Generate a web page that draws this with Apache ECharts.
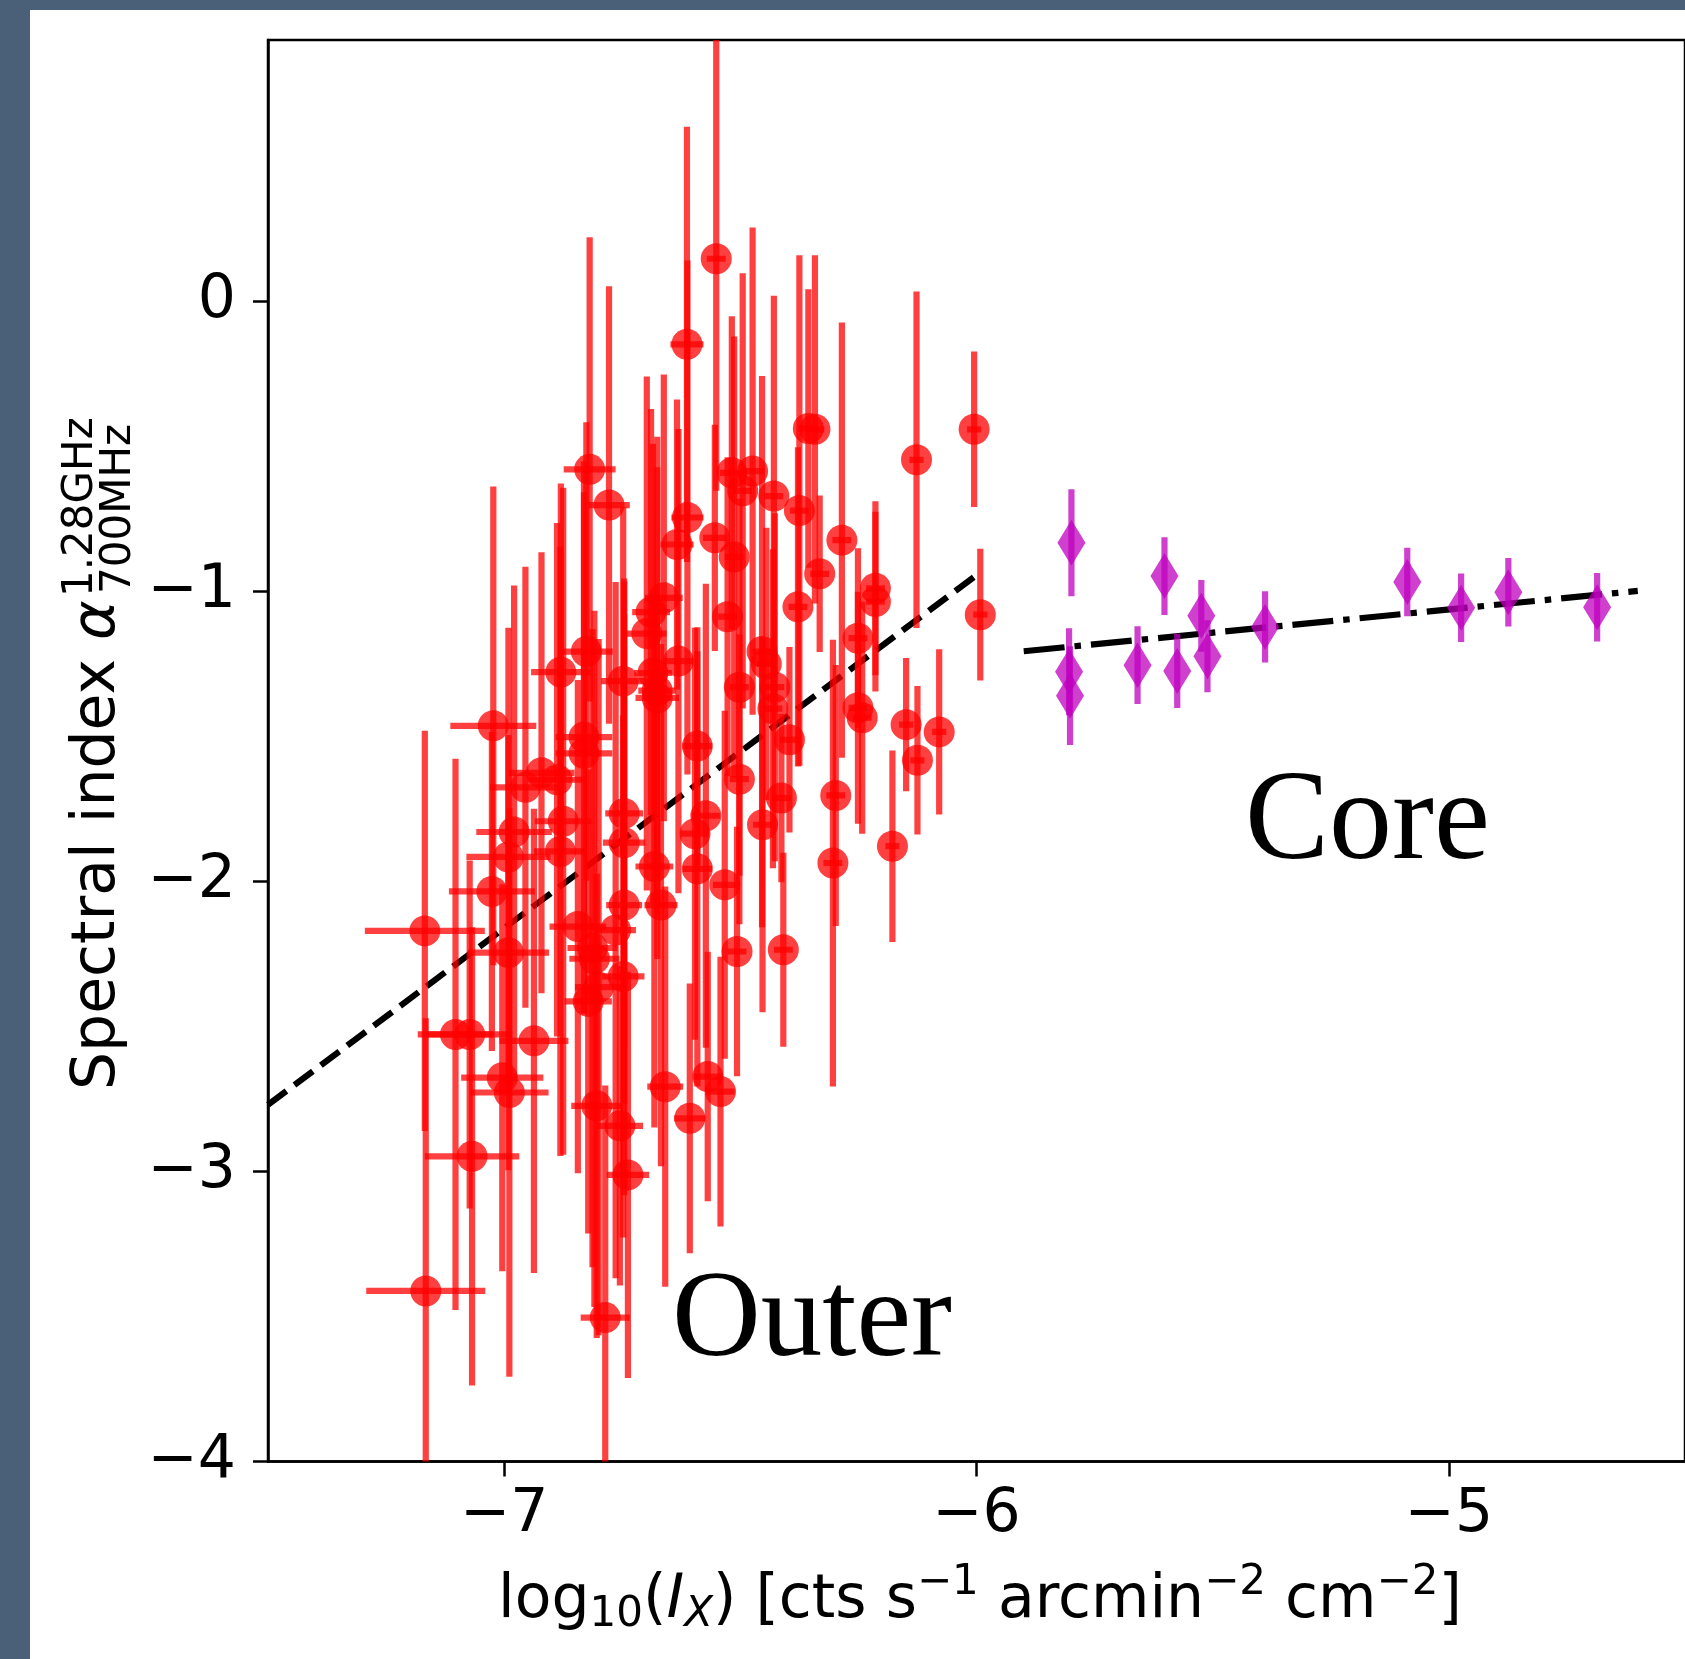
<!DOCTYPE html>
<html>
<head>
<meta charset="utf-8">
<script src="https://cdn.jsdelivr.net/npm/echarts@6/dist/echarts.min.js"></script>
<style>
html,body{margin:0;padding:0;background:#fff;}
#c{width:1685px;height:1659px;}
</style>
</head>
<body>
<div id="c"></div>
<script>
// ---- data ----
const outerX = [-6.551,-6.613,-6.005,-6.356,-6.342,-6.127,-6.819,-6.518,-6.474,-6.495,
  -6.778,-6.429,-6.375,-6.612,-6.554,-6.285,-6.634,-6.513,-6.332,-6.214,
  -6.214,-5.992,-6.662,-6.689,-6.698,-6.378,-6.527,-6.251,-6.826,-6.454,
  -6.445,-6.880,-6.631,-6.748,-6.685,-6.676,-6.676,-6.502,-6.427,-6.431,
  -6.251,-6.242,-7.023,-6.149,-6.079,-6.831,-6.831,-6.396,-6.591,-6.125,
  -6.921,-6.888,-6.502,-7.168,-6.955,-6.979,-6.875,-6.881,-6.746,-6.746,
  -6.991,-7.026,-6.991,-6.844,-6.764,-6.813,-6.809,-6.748,-6.800,-6.822,
  -6.746,-6.668,-6.682,-6.591,-6.596,-6.573,-6.533,-6.453,-6.413,-6.298,
  -6.304,-6.178,-6.507,-6.409,-7.103,-7.073,-6.937,-7.004,-6.989,-6.659,
  -6.569,-6.542,-6.804,-6.755,-6.607,-7.068,-6.738,-7.166,-6.786];
const outerY = [0.146,-0.149,-0.442,-0.439,-0.442,-0.547,-0.580,-0.592,-0.586,-0.654,
  -0.703,-0.672,-0.722,-0.746,-0.816,-0.824,-0.839,-0.882,-0.940,-0.990,
  -1.036,-1.081,-1.023,-1.072,-1.146,-1.054,-1.088,-1.162,-1.208,-1.208,
  -1.251,-1.279,-1.241,-1.310,-1.282,-1.343,-1.368,-1.331,-1.331,-1.405,
  -1.402,-1.436,-1.464,-1.460,-1.485,-1.503,-1.559,-1.512,-1.534,-1.583,
  -1.626,-1.650,-1.648,-2.171,-1.676,-1.830,-1.793,-1.897,-1.766,-1.867,
  -1.916,-2.035,-2.246,-2.156,-2.168,-2.230,-2.267,-2.328,-2.365,-2.414,
  -2.082,-2.082,-1.949,-1.957,-1.836,-1.774,-2.012,-1.805,-1.713,-1.704,
  -1.937,-1.879,-2.242,-2.236,-2.528,-2.528,-2.550,-2.677,-2.728,-2.708,
  -2.673,-2.725,-2.774,-2.843,-2.817,-2.948,-3.012,-3.412,-3.504];
const outerXErr = [0.02,0.035,0.015,0.02,0.02,0.015,0.055,0.025,0.025,0.02,
  0.044,0.02,0.02,0.034,0.025,0.02,0.035,0.02,0.02,0.02,
  0.02,0.015,0.04,0.04,0.042,0.02,0.02,0.02,0.056,0.02,
  0.02,0.063,0.031,0.047,0.04,0.04,0.046,0.02,0.02,0.02,
  0.02,0.02,0.091,0.015,0.015,0.06,0.06,0.02,0.031,0.015,
  0.07,0.06,0.02,0.127,0.075,0.08,0.06,0.056,0.04,0.045,
  0.089,0.091,0.086,0.06,0.043,0.053,0.053,0.045,0.05,0.05,
  0.038,0.035,0.04,0.031,0.03,0.03,0.025,0.02,0.02,0.02,
  0.02,0.015,0.02,0.02,0.08,0.09,0.073,0.087,0.083,0.038,
  0.03,0.03,0.054,0.049,0.033,0.10,0.045,0.126,0.052];
const outerYErr = [0.80,0.75,0.268,0.48,0.60,0.58,0.80,0.54,0.84,0.75,
  0.754,0.69,0.88,0.886,0.39,0.75,0.50,0.76,0.27,0.30,
  0.31,0.227,0.77,0.70,0.886,0.55,0.55,0.31,0.79,0.95,
  0.47,0.65,0.80,0.60,0.79,0.77,0.90,0.65,0.60,0.55,
  0.40,0.40,0.825,0.23,0.285,0.95,0.90,0.32,0.41,0.256,
  0.76,0.885,0.50,0.69,0.76,0.85,1.15,1.05,0.81,0.90,
  0.79,0.55,0.75,0.85,1.20,1.10,1.20,0.90,1.20,0.80,
  1.00,0.90,0.90,0.75,0.71,0.80,0.60,0.646,0.29,0.45,
  0.77,0.33,0.43,0.334,0.95,0.60,0.80,0.667,0.98,0.69,
  0.43,0.465,0.80,0.55,0.465,0.79,0.70,0.94,0.80];

const coreX = [-5.799,-5.804,-5.802,-5.659,-5.602,-5.575,-5.524,-5.511,-5.389,-5.088,-4.974,-4.874,-4.686];
const coreY = [-0.833,-1.278,-1.360,-1.255,-0.948,-1.275,-1.085,-1.224,-1.123,-0.968,-1.057,-1.004,-1.055];
const coreYErr = [0.184,0.15,0.17,0.134,0.134,0.128,0.124,0.124,0.123,0.118,0.118,0.118,0.118];

const fitOuterX = [-7.5, -6.0];
const fitOuterY = [-2.770, -0.945];
const fitCoreX = [-5.9, -4.6];
const fitCoreY = [-1.207, -0.999];

const xTicks = [-7, -6, -5];
const yTicks = [-4, -3, -2, -1, 0];

// ---- chart ----
const FONT = 'DejaVu Sans';
const fmt = v => (v < 0 ? '\u2212' + Math.abs(v) : String(v));

const outerData = outerX.map((x, i) => [x, outerY[i], outerXErr[i], outerYErr[i]]);
const coreData = coreX.map((x, i) => [x, coreY[i], 0, coreYErr[i]]);

function errRender(color, lw) {
  return function (params, api) {
    const x = api.value(0), y = api.value(1), xe = api.value(2), ye = api.value(3);
    const ch = [];
    const a = api.coord([x, y - ye]), b = api.coord([x, y + ye]);
    ch.push({type: 'line', shape: {x1: a[0], y1: a[1], x2: b[0], y2: b[1]},
      style: {stroke: color, lineWidth: lw, lineCap: 'butt'}});
    if (xe > 0) {
      const c = api.coord([x - xe, y]), d = api.coord([x + xe, y]);
      ch.push({type: 'line', shape: {x1: c[0], y1: c[1], x2: d[0], y2: d[1]},
        style: {stroke: color, lineWidth: lw, lineCap: 'butt'}});
    }
    return {type: 'group', children: ch};
  };
}

const chart = echarts.init(document.getElementById('c'), null, {renderer: 'canvas'});
const option = {
  animation: false,
  backgroundColor: '#ffffff',
  grid: {left: 268, top: 40, width: 1421.7, height: 1421.5, show: true,
    borderColor: '#000', borderWidth: 2.5, backgroundColor: 'transparent', containLabel: false},
  xAxis: {
    type: 'value', min: -7.5, max: -4.5,
    axisLine: {show: true, onZero: false, lineStyle: {color: '#000', width: 2.5}},
    axisTick: {show: true, customValues: xTicks, length: 15, inside: false, lineStyle: {color: '#000', width: 2.5}},
    axisLabel: {show: true, customValues: xTicks, formatter: fmt, fontFamily: FONT, fontSize: 60, color: '#000', margin: 24},
    splitLine: {show: false}
  },
  yAxis: {
    type: 'value', min: -4, max: 0.9,
    axisLine: {show: true, onZero: false, lineStyle: {color: '#000', width: 2.5}},
    axisTick: {show: true, customValues: yTicks, length: 15, inside: false, lineStyle: {color: '#000', width: 2.5}},
    axisLabel: {show: true, customValues: yTicks, formatter: fmt, fontFamily: FONT, fontSize: 60, color: '#000', margin: 32},
    splitLine: {show: false}
  },
  series: [
    {type: 'line', z: 1, data: fitOuterX.map((x, i) => [x, fitOuterY[i]]), symbol: 'none', silent: true,
      lineStyle: {color: '#000', width: 6.2, type: [23, 10], cap: 'butt'}},
    {type: 'line', z: 1, data: fitCoreX.map((x, i) => [x, fitCoreY[i]]), symbol: 'none', silent: true,
      lineStyle: {color: '#000', width: 6.2, type: [41, 10, 6.5, 10], cap: 'butt'}},
    {type: 'custom', z: 2, clip: true, data: outerData, renderItem: errRender('rgba(255,0,0,0.75)', 6.2),
      encode: {x: 0, y: 1}},
    {type: 'scatter', z: 3, data: outerData.map(d => [d[0], d[1]]), symbol: 'circle', symbolSize: 31,
      itemStyle: {color: '#ff0000', opacity: 0.75}},
    {type: 'custom', z: 4, clip: true, data: coreData, renderItem: errRender('rgba(191,0,191,0.75)', 6.2),
      encode: {x: 0, y: 1}},
    {type: 'scatter', z: 5, data: coreData.map(d => [d[0], d[1]]), symbol: 'diamond', symbolSize: [28, 46],
      itemStyle: {color: '#bf00bf', opacity: 0.75}}
  ],
  graphic: [
    {type: 'rect', shape: {x: 0, y: 0, width: 30, height: 1659}, style: {fill: '#4a6078'}, z: 100},
    {type: 'rect', shape: {x: 0, y: 0, width: 1685, height: 10}, style: {fill: '#4a6078'}, z: 100},
    {type: 'text', x: 1245, y: 824.5, z: 50, style: {text: 'Core', font: '126px "Liberation Serif"', fill: '#000', align: 'left', verticalAlign: 'middle'}},
    {type: 'text', x: 672, y: 1323, z: 50, style: {text: 'Outer', font: '123px "Liberation Serif"', fill: '#000', align: 'left', verticalAlign: 'middle'}},
    {type: 'text', x: 980, y: 1641, z: 50, style: {
      text: '{n|log}{sb|10}{n|(}{it|I}{sbi|X}{n|) [cts s}{sp|\u22121}{n| arcmin}{sp|\u22122}{n| cm}{sp|\u22122}{n|]}',
      align: 'center', verticalAlign: 'bottom', fill: '#000',
      rich: {
        n: {fontFamily: FONT, fontSize: 60, padding: [0, 0, 10, 0], verticalAlign: 'bottom', fill: '#000'},
        it: {fontFamily: FONT, fontSize: 60, fontStyle: 'italic', padding: [0, 0, 10, 0], verticalAlign: 'bottom', fill: '#000'},
        sb: {fontFamily: FONT, fontSize: 42, padding: [0, 0, 5, 0], verticalAlign: 'bottom', fill: '#000'},
        sbi: {fontFamily: FONT, fontSize: 42, fontStyle: 'italic', padding: [0, 0, 5, 0], verticalAlign: 'bottom', fill: '#000'},
        sp: {fontFamily: FONT, fontSize: 42, padding: [0, 0, 37, 0], verticalAlign: 'bottom', fill: '#000'}
      }}},
    {type: 'text', x: 98.5, y: 1090, rotation: Math.PI / 2, z: 50, style: {
      text: '{n|Spectral index }{a|\u03b1}', align: 'left', verticalAlign: 'middle', fill: '#000',
      rich: {
        n: {fontFamily: FONT, fontSize: 60, fill: '#000'},
        a: {fontFamily: FONT, fontSize: 60, fontStyle: 'italic', fill: '#000'}
      }}},
    {type: 'text', x: 81, y: 597, rotation: Math.PI / 2, z: 50, style: {
      text: '1.28GHz', font: '42px "DejaVu Sans"', fill: '#000', align: 'left', verticalAlign: 'middle'}},
    {type: 'text', x: 119, y: 594, rotation: Math.PI / 2, z: 50, style: {
      text: '700MHz', font: '42px "DejaVu Sans"', fill: '#000', align: 'left', verticalAlign: 'middle'}}
  ]
};
chart.setOption(option);
</script>
</body>
</html>
